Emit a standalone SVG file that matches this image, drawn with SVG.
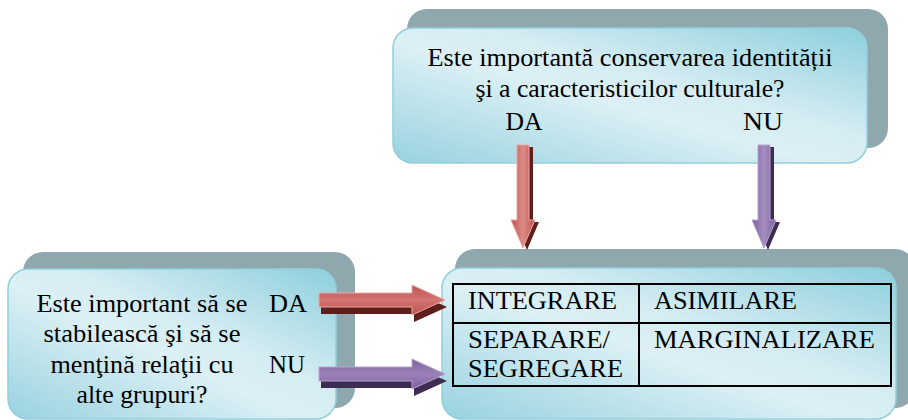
<svg xmlns="http://www.w3.org/2000/svg" width="908" height="420" viewBox="0 0 908 420" font-family="Liberation Serif" font-size="26">
<defs>
<linearGradient id="boxFill" x1="0" y1="1" x2="1" y2="0">
<stop offset="0" stop-color="#98d2df"/>
<stop offset="0.45" stop-color="#dcf0f5"/>
<stop offset="0.6" stop-color="#d4ecf2"/>
<stop offset="1" stop-color="#8ccfdc"/>
</linearGradient>
<linearGradient id="redV" x1="0" y1="0" x2="1" y2="0">
<stop offset="0" stop-color="#c0504d"/>
<stop offset="0.5" stop-color="#dc8c88"/>
<stop offset="1" stop-color="#c0504d"/>
</linearGradient>
<linearGradient id="purV" x1="0" y1="0" x2="1" y2="0">
<stop offset="0" stop-color="#7d5f9f"/>
<stop offset="0.5" stop-color="#a58ec0"/>
<stop offset="1" stop-color="#7d5f9f"/>
</linearGradient>
<linearGradient id="redH" x1="0" y1="0" x2="0" y2="1">
<stop offset="0" stop-color="#c0504d"/>
<stop offset="0.5" stop-color="#d27571"/>
<stop offset="1" stop-color="#c0504d"/>
</linearGradient>
<linearGradient id="purH" x1="0" y1="0" x2="0" y2="1">
<stop offset="0" stop-color="#7d5f9f"/>
<stop offset="0.5" stop-color="#9b82b8"/>
<stop offset="1" stop-color="#7d5f9f"/>
</linearGradient>
</defs>
<style>
.shadow{fill:#8ea8ae}
.box{fill:url(#boxFill);stroke:#92cedb;stroke-width:1.5}
.mid{text-anchor:middle}
.grid{fill:none;stroke:#000;stroke-width:2}
.redS{fill:#5e1e1c}
.purS{fill:#3d2d52}
.edgeR{stroke:#e8a9a6;stroke-width:1}
.edgeP{stroke:#b7a4cf;stroke-width:1}
</style>
<rect width="908" height="420" fill="#ffffff"/>

<g id="node-top">
<rect class="shadow" x="407" y="9" width="481" height="139" rx="20"/>
<rect class="box" x="393" y="28" width="474" height="135" rx="20"/>
<text class="mid" x="630" y="66" textLength="405" lengthAdjust="spacingAndGlyphs">Este importantă conservarea identității</text>
<text class="mid" x="630" y="97" textLength="309" lengthAdjust="spacingAndGlyphs">şi a caracteristicilor culturale?</text>
<text class="mid" x="524" y="130" textLength="37" lengthAdjust="spacingAndGlyphs">DA</text>
<text class="mid" x="763" y="130" textLength="40" lengthAdjust="spacingAndGlyphs">NU</text>
</g>

<g id="node-left">
<rect class="shadow" x="23" y="252" width="332" height="156" rx="20"/>
<rect class="box" x="8" y="269" width="328" height="150" rx="20"/>
<text class="mid" x="142" y="312" textLength="211" lengthAdjust="spacingAndGlyphs">Este important să se</text>
<text class="mid" x="142" y="342" textLength="197" lengthAdjust="spacingAndGlyphs">stabilească şi să se</text>
<text class="mid" x="142" y="373" textLength="183" lengthAdjust="spacingAndGlyphs">menţină relaţii cu</text>
<text class="mid" x="142" y="403" textLength="131" lengthAdjust="spacingAndGlyphs">alte grupuri?</text>
<text x="269" y="312" textLength="38" lengthAdjust="spacingAndGlyphs">DA</text>
<text x="269" y="373" textLength="36" lengthAdjust="spacingAndGlyphs">NU</text>
</g>

<g id="node-right">
<rect class="shadow" x="455" y="249" width="460" height="159" rx="20"/>
<rect class="box" x="442" y="268" width="454" height="151" rx="20"/>
<rect class="grid" x="453" y="284" width="438" height="102"/>
<line class="grid" x1="639" y1="284" x2="639" y2="386"/>
<line class="grid" x1="453" y1="323" x2="891" y2="323"/>
<text x="468" y="309" textLength="149" lengthAdjust="spacingAndGlyphs">INTEGRARE</text>
<text x="654" y="309" textLength="143" lengthAdjust="spacingAndGlyphs">ASIMILARE</text>
<text x="468" y="348" textLength="142" lengthAdjust="spacingAndGlyphs">SEPARARE/</text>
<text x="468" y="377" textLength="155" lengthAdjust="spacingAndGlyphs">SEGREGARE</text>
<text x="654" y="348" textLength="221" lengthAdjust="spacingAndGlyphs">MARGINALIZARE</text>
</g>

<g id="connectors">
<polygon class="redS" points="521,147 533,147 533,222 539,222 527,250 515,222 521,222"/>
<polygon class="edgeR" fill="url(#redV)" points="517,145 529,145 529,220 535,220 523,248 511,220 517,220"/>
<polygon class="purS" points="762,147 774,147 774,222 780,222 768,250 756,222 762,222"/>
<polygon class="edgeP" fill="url(#purV)" points="758,145 770,145 770,220 776,220 764,248 752,220 758,220"/>
<polygon class="redS" points="321,300 414,300 414,292 447,307 414,322 414,314 321,314"/>
<polygon class="edgeR" fill="url(#redH)" points="319,293 412,293 412,285 445,300 412,315 412,307 319,307"/>
<polygon class="purS" points="321,374 414,374 414,366 447,381 414,396 414,388 321,388"/>
<polygon class="edgeP" fill="url(#purH)" points="319,367 412,367 412,359 445,374 412,389 412,381 319,381"/>
</g>
</svg>
